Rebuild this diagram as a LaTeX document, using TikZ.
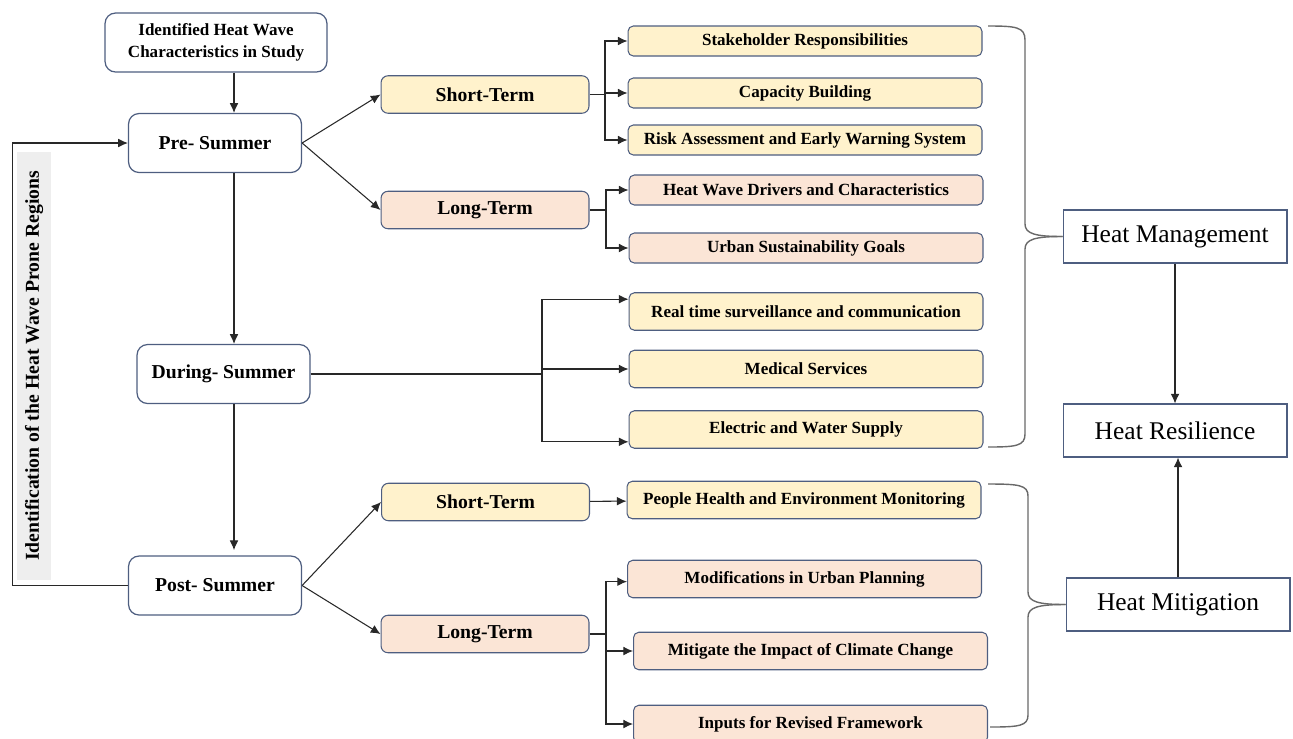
\documentclass[tikz,border=0pt]{standalone}
\usepackage{fontspec}
\setmainfont{Liberation Serif}
\usepackage{tikz}
\usetikzlibrary{arrows.meta,calc,positioning}
\definecolor{hwedge}{RGB}{78,94,128}
\definecolor{hwyel}{RGB}{255,242,204}
\definecolor{hwsal}{RGB}{251,229,214}
\definecolor{hwline}{RGB}{40,40,40}
\definecolor{hwbrace}{RGB}{105,105,105}
\definecolor{hwgray}{RGB}{238,238,238}

\begin{document}
\begin{tikzpicture}[x=0.02cm,y=-0.02cm,
      stage/.style={draw=hwedge,fill=white,line width=0.7pt,rounded corners=6pt,inner sep=0pt,
        minimum width=3.46cm,minimum height=1.18cm,font=\bfseries\fontsize{11.2}{13}\selectfont},
      term/.style={draw=hwedge,line width=0.6pt,rounded corners=4pt,inner sep=0pt,
        minimum width=4.16cm,minimum height=0.75cm,font=\bfseries\fontsize{11.2}{13}\selectfont},
      item/.style={draw=hwedge,line width=0.6pt,rounded corners=3pt,inner sep=0pt,
        minimum width=7.08cm,minimum height=0.75cm,font=\bfseries\fontsize{9.7}{11}\selectfont},
      thin/.style={minimum height=0.6cm},
      goal/.style={draw=hwedge,line width=0.6pt,inner sep=0pt,
        minimum width=4.48cm,minimum height=1.06cm,font=\fontsize{14.5}{17}\selectfont},
      a/.style={-{Latex[length=5.5pt,width=5pt]},line width=0.6pt,draw=hwline},
      ln/.style={line width=0.6pt,draw=hwline},
      brc/.style={line width=0.8pt,draw=hwbrace}]
      \useasboundingbox (0,0) rectangle (1293,738);
      \node[stage,minimum width=4.44cm,align=center,font=\bfseries\fontsize{9.7}{12.5}\selectfont] (ident) at (216,42.5)
        {Identified Heat Wave\\Characteristics in Study};
      \node[stage] (pre) at (215,143) {Pre- Summer};
      \node[stage] (during) at (223.5,374) {During- Summer};
      \node[stage] (post) at (215,585.5) {Post- Summer};
      \node[fill=hwgray,rotate=90,inner sep=0pt,minimum width=8.56cm,minimum height=0.68cm,
        font=\bfseries\fontsize{11.2}{13}\selectfont] (region) at (34,366)
        {Identification of the Heat Wave Prone Regions};
      \node[term,fill=hwyel] (st1) at (485,94.5) {Short-Term};
      \node[term,fill=hwsal] (lt1) at (485,210) {Long-Term};
      \node[term,fill=hwyel] (st2) at (485.5,502) {Short-Term};
      \node[term,fill=hwsal] (lt2) at (485,634) {Long-Term};
      \node[item,thin,fill=hwyel] (stake) at (805,41) {Stakeholder Responsibilities};
      \node[item,thin,fill=hwyel] (cap) at (805,93) {Capacity Building};
      \node[item,thin,fill=hwyel] (risk) at (805,140) {Risk Assessment and Early Warning System};
      \node[item,thin,fill=hwsal] (drv) at (806,190) {Heat Wave Drivers and Characteristics};
      \node[item,thin,fill=hwsal] (urb) at (806,248) {Urban Sustainability Goals};
      \node[item,fill=hwyel] (real) at (806,311.5) {Real time surveillance and communication};
      \node[item,fill=hwyel] (med) at (806,369) {Medical Services};
      \node[item,fill=hwyel] (elec) at (806,429.5) {Electric and Water Supply};
      \node[item,fill=hwyel] (ppl) at (804,500) {People Health and Environment Monitoring};
      \node[item,fill=hwsal] (mod) at (804.5,579) {Modifications in Urban Planning};
      \node[item,fill=hwsal] (mit) at (810.5,651) {Mitigate the Impact of Climate Change};
      \node[item,fill=hwsal] (inp) at (810.5,724) {Inputs for Revised Framework};
      \node[goal] (mgmt) at (1175,236.5) {Heat Management};
      \node[goal] (res) at (1175,430.5) {Heat Resilience};
      \node[goal] (mitg) at (1178,604.5) {Heat Mitigation};
      \coordinate (spine) at (234,0);
      \coordinate (j1) at (605,94.5);
      \coordinate (j2) at (606,210);
      \coordinate (j3) at (542,374);
      \coordinate (j4) at (606,634);
      \draw[a] (ident.south -| spine) -- (pre.north -| spine);
      \draw[a] (pre.south -| spine) -- (during.north -| spine);
      \draw[a] (during.south -| spine) -- ([yshift=3pt]post.north -| spine);
      \draw[a] (post.west) -- ++(-115,0) |- (pre.west);
      \draw[a] (pre.east) -- (st1.west);
      \draw[a] (pre.east) -- (lt1.west);
      \draw[a] (post.east) -- (st2.west);
      \draw[a] (post.east) -- (lt2.west);
      \draw[ln] (st1.east) -- (j1);
      \draw[a] (j1) |- (stake.west);
      \draw[a] (j1) |- (cap.west);
      \draw[a] (j1) |- (risk.west);
      \draw[ln] (lt1.east) -- (j2);
      \draw[a] (j2) |- (drv.west);
      \draw[a] (j2) |- (urb.west);
      \draw[ln] (during.east) -- (j3);
      \draw[a] (j3) |- ([yshift=7pt]real.west);
      \draw[a] (j3) |- (med.west);
      \draw[a] (j3) |- ([yshift=-7pt]elec.west);
      \draw[a] (st2) -- (ppl);
      \draw[ln] (lt2.east) -- (j4);
      \draw[a] (j4) |- ([yshift=-1.5pt]mod.west);
      \draw[a] (j4) |- (mit.west);
      \draw[a] (j4) |- (inp.west);
      \draw[a] (mgmt) -- (res);
      \draw[a] (mitg.north) -- (mitg.north |- res.south);
      \draw[brc] (988,26) .. controls (1016,26) and (1025,27) .. (1025,40) -- (1025,224)
        .. controls (1025,234) and (1036,236.5) .. (mgmt.west);
      \draw[brc] (mgmt.west) .. controls (1036,236.5) and (1025,239) .. (1025,249) -- (1025,434)
        .. controls (1025,446) and (1016,447) .. (988,447);
      \draw[brc] (988,484) .. controls (1019,484) and (1028,485) .. (1028,496) -- (1028,592)
        .. controls (1028,602) and (1039,604.5) .. (mitg.west);
      \draw[brc] (mitg.west) .. controls (1039,604.5) and (1028,607) .. (1028,617) -- (1028,715)
        .. controls (1028,726) and (1019,727) .. (990,727);
    \end{tikzpicture}
\end{document}
